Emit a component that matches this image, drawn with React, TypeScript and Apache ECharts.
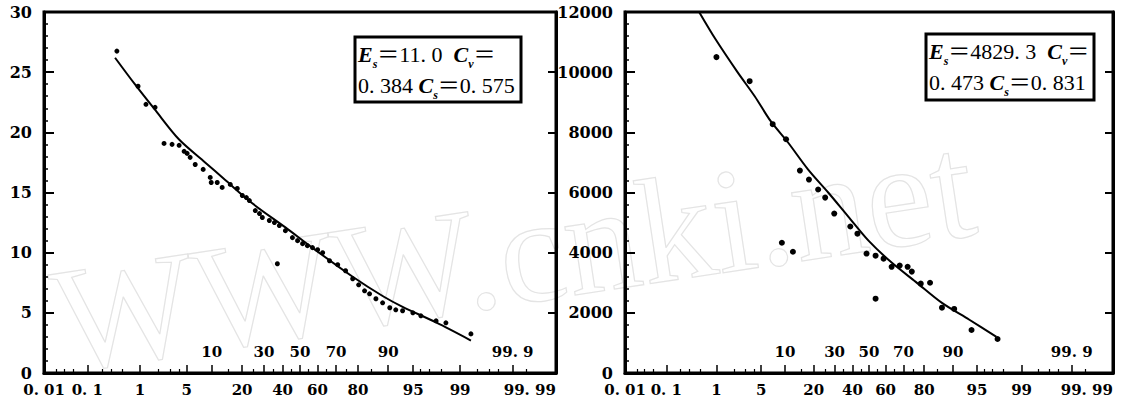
import React, { useEffect, useRef } from "react";
import * as echarts from "echarts";

// ---------- data (exceedance probability in %, value) ----------
const leftObsP = [0.39, 0.93, 1.26, 1.76, 2.41, 3.15, 3.95, 4.61, 5.05, 5.52, 6.39, 7.97, 9.6, 9.85, 11.45, 12.9, 15.55, 18.1, 20.1, 21.8, 23.1, 25.8, 27.8, 29.2, 32.8, 35.5, 37.1, 38.2, 41.6, 45.6, 48.6, 51.5, 54.3, 57.2, 60.1, 62.9, 66.6, 70.8, 74.6, 77.8, 80.3, 82.6, 84.4, 86.5, 88.5, 90.4, 91.8, 93.2, 94.95, 96.05, 97.6, 98.3, 99.35];
const leftObsV = [26.75, 23.83, 22.33, 22.08, 19.08, 19.0, 18.92, 18.42, 18.25, 17.92, 17.33, 16.92, 16.25, 15.83, 15.83, 15.42, 15.67, 15.33, 14.75, 14.58, 14.33, 13.5, 13.25, 12.92, 12.67, 12.5, 9.08, 12.25, 11.83, 11.25, 11.0, 10.75, 10.58, 10.42, 10.25, 10.0, 9.33, 9.0, 8.5, 7.83, 7.33, 6.83, 6.58, 6.17, 5.83, 5.42, 5.25, 5.17, 5.0, 4.75, 4.33, 4.17, 3.25];
const leftCurveP = [0.36, 0.82, 1.74, 3.95, 8.4, 13.6, 24.4, 41.6, 57.2, 77.8, 88.5, 93.2, 97.6, 99.35];
const leftCurveV = [26.2, 24.0, 21.9, 19.4, 17.5, 16.1, 14.1, 12.1, 10.4, 8.0, 6.4, 5.5, 4.2, 2.7];

const rightObsP = [1.0, 3.44, 7.1, 9.2, 10.3, 12.3, 14.6, 18.0, 21.9, 25.2, 29.8, 38.8, 43.0, 48.5, 54.0, 54.0, 58.8, 63.5, 68.0, 72.2, 74.3, 78.5, 82.4, 86.7, 90.3, 94.1, 97.5];
const rightObsV = [10500, 9700, 8270, 4330, 7770, 4030, 6730, 6430, 6100, 5830, 5300, 4870, 4630, 3970, 3900, 2470, 3800, 3530, 3570, 3530, 3370, 2970, 3000, 2170, 2130, 1430, 1130];
const rightCurveP = [0.48, 0.96, 2.25, 4.07, 6.7, 10.8, 17.6, 26.7, 37.6, 49.7, 63.5, 76.2, 86.7, 93.7, 97.4];
const rightCurveV = [12000, 11100, 10000, 9200, 8370, 7670, 6770, 6000, 5200, 4400, 3670, 3030, 2330, 1770, 1200];

// ---------- probability-axis ticks ----------
const bottomLabelP = [0.01, 0.1, 1, 5, 20, 40, 60, 80, 95, 99, 99.99];
const bottomLabels = ["0. 01", "0. 1", "1", "5", "20", "40", "60", "80", "95", "99", "99. 99"];
const innerLabelP = [10, 30, 50, 70, 90, 99.9];
const innerLabels = ["10", "30", "50", "70", "90", "99. 9"];
const majorTickP = [0.1, 1, 5, 10, 20, 30, 40, 50, 60, 70, 80, 90, 95, 99, 99.9];
const minorTickP = [0.02, 0.03, 0.05, 0.2, 0.3, 0.5, 2, 3, 4, 15, 25, 35, 45, 55, 65, 75, 85, 96, 97, 98, 99.5, 99.7, 99.8, 99.95];

const leftBox = { e: "11. 0", cv: "0. 384", cs: "0. 575" };
const rightBox = { e: "4829. 3", cv: "0. 473", cs: "0. 831" };
const watermark = "WWW.cnki.net";

// inverse standard normal CDF (probability-paper axis transform)
function probit(pPercent: number): number {
  const p = pPercent / 100;
  const a = [-3.969683028665376e1, 2.209460984245205e2, -2.759285104469687e2, 1.38357751867269e2, -3.066479806614716e1, 2.506628277459239];
  const b = [-5.447609879822406e1, 1.615858368580409e2, -1.556989798598866e2, 6.680131188771972e1, -1.328068155288572e1];
  const c = [-7.784894002430293e-3, -3.223964580411365e-1, -2.400758277161838, -2.549732539343734, 4.374664141464968, 2.938163982698783];
  const d = [7.784695709041462e-3, 3.224671290700398e-1, 2.445134137142996, 3.754408661907416];
  const plow = 0.02425;
  if (p < plow) {
    const q = Math.sqrt(-2 * Math.log(p));
    return (((((c[0] * q + c[1]) * q + c[2]) * q + c[3]) * q + c[4]) * q + c[5]) / ((((d[0] * q + d[1]) * q + d[2]) * q + d[3]) * q + 1);
  }
  if (p <= 1 - plow) {
    const q = p - 0.5;
    const r = q * q;
    return ((((((a[0] * r + a[1]) * r + a[2]) * r + a[3]) * r + a[4]) * r + a[5]) * q) / (((((b[0] * r + b[1]) * r + b[2]) * r + b[3]) * r + b[4]) * r + 1);
  }
  const q = Math.sqrt(-2 * Math.log(1 - p));
  return -(((((c[0] * q + c[1]) * q + c[2]) * q + c[3]) * q + c[4]) * q + c[5]) / ((((d[0] * q + d[1]) * q + d[2]) * q + d[3]) * q + 1);
}

const ZMIN = probit(0.01) - 0.001;
const ZMAX = probit(99.99) + 0.001;

const FONT = "'DejaVu Serif', serif";

function labelFmt(ps: number[], labels: string[]) {
  const zs = ps.map(probit);
  return (v: number) => {
    let best = 0;
    let bd = Infinity;
    zs.forEach((z, i) => {
      const dd = Math.abs(z - v);
      if (dd < bd) {
        bd = dd;
        best = i;
      }
    });
    return labels[best];
  };
}

function xAxes(g: number) {
  return [
    {
      gridIndex: g,
      type: "value",
      position: "bottom",
      min: ZMIN,
      max: ZMAX,
      axisLine: { show: true, onZero: false, lineStyle: { color: "#000", width: 3 } },
      axisTick: { show: true, inside: true, length: 8, lineStyle: { color: "#000", width: 1.5 }, customValues: majorTickP.map(probit) },
      axisLabel: {
        customValues: bottomLabelP.map(probit),
        formatter: labelFmt(bottomLabelP, bottomLabels),
        margin: 9,
        color: "#000",
        fontFamily: FONT,
        fontWeight: "bold",
        fontSize: 15,
        alignMaxLabel: "right",
        hideOverlap: false,
      },
      splitLine: { show: false },
    },
    {
      gridIndex: g,
      type: "value",
      position: "bottom",
      min: ZMIN,
      max: ZMAX,
      axisLine: { show: false, onZero: false },
      axisTick: { show: true, inside: true, length: 4, lineStyle: { color: "#000", width: 1.2 }, customValues: minorTickP.map(probit) },
      axisLabel: {
        inside: true,
        customValues: innerLabelP.map(probit),
        formatter: labelFmt(innerLabelP, innerLabels),
        margin: 14,
        color: "#000",
        fontFamily: FONT,
        fontWeight: "bold",
        fontSize: 15,
        hideOverlap: false,
      },
      splitLine: { show: false },
    },
  ];
}

function yAxes(g: number, max: number, interval: number) {
  return [
    {
      gridIndex: g,
      type: "value",
      position: "left",
      min: 0,
      max,
      interval,
      axisLine: { show: true, onZero: false, lineStyle: { color: "#000", width: 3 } },
      axisTick: { show: true, inside: true, length: 10, lineStyle: { color: "#000", width: 2 } },
      minorTick: { show: true, splitNumber: 5, length: 4, lineStyle: { color: "#000", width: 1.5 } },
      axisLabel: { margin: 12, color: "#000", fontFamily: FONT, fontWeight: "bold", fontSize: 16, formatter: (v: number) => String(v) },
      splitLine: { show: false },
      minorSplitLine: { show: false },
    },
    {
      gridIndex: g,
      type: "value",
      position: "right",
      min: 0,
      max,
      interval,
      axisLine: { show: true, onZero: false, lineStyle: { color: "#000", width: 3 } },
      axisTick: { show: true, inside: true, length: 8, lineStyle: { color: "#000", width: 2 } },
      axisLabel: { show: false },
      splitLine: { show: false },
    },
  ];
}

function zip(ps: number[], vs: number[]) {
  return ps.map((p, i) => [probit(p), vs[i]]);
}

function boxGraphic(x: number, y: number, w: number, h: number, vals: { e: string; cv: string; cs: string }) {
  const fam = "'Liberation Serif', 'Noto Sans CJK SC', serif";
  const n = { fontFamily: fam, fontSize: 22, lineHeight: 31, fill: "#000" };
  const it = { fontFamily: fam, fontSize: 22, lineHeight: 31, fontStyle: "italic", fontWeight: "bold", fill: "#000" };
  const sub = { fontFamily: fam, fontSize: 12, lineHeight: 20, fontStyle: "italic", fontWeight: "bold", verticalAlign: "bottom", fill: "#000" };
  return [
    { type: "rect", z: 100, shape: { x, y, width: w, height: h }, style: { fill: "#fff", stroke: "#000", lineWidth: 3 } },
    {
      type: "text",
      z: 101,
      x: x + 3,
      y: y + 2,
      style: {
        text: `{i|E}{s|s}{n|＝${vals.e}  }{i|C}{s|v}{n|＝}\n{n|${vals.cv} }{i|C}{s|s}{n|＝${vals.cs}}`,
        rich: { n, i: it, s: sub },
      },
    },
  ];
}

export default function App() {
  const ref = useRef<HTMLDivElement>(null);
  useEffect(() => {
    document.body.style.margin = "0";
    const chart = echarts.init(ref.current!, null, { renderer: "svg" });
    chart.setOption({
      animation: false,
      backgroundColor: "#fff",
      grid: [
        { left: 44, top: 12, width: 512, height: 361, show: true, borderColor: "#000", borderWidth: 3, backgroundColor: "transparent" },
        { left: 625, top: 12, width: 488, height: 361, show: true, borderColor: "#000", borderWidth: 3, backgroundColor: "transparent" },
      ],
      xAxis: [...xAxes(0), ...xAxes(1)],
      yAxis: [...yAxes(0, 30, 5), ...yAxes(1, 12000, 2000)],
      graphic: [
        {
          type: "text",
          z: -10,
          x: 66,
          y: 396,
          rotation: 0.15,
          silent: true,
          style: {
            text: watermark,
            font: "150px 'Liberation Serif', serif",
            fill: "rgba(0,0,0,0)",
            stroke: "#e4e4e4",
            lineWidth: 1.2,
            verticalAlign: "bottom",
          },
        },
        ...boxGraphic(355, 37, 166, 65, leftBox),
        ...boxGraphic(926, 34, 168, 66, rightBox),
      ],
      series: [
        {
          type: "line",
          xAxisIndex: 0,
          yAxisIndex: 0,
          data: zip(leftCurveP, leftCurveV),
          smooth: 0.3,
          showSymbol: false,
          lineStyle: { color: "#000", width: 2 },
          z: 5,
        },
        {
          type: "scatter",
          xAxisIndex: 0,
          yAxisIndex: 0,
          data: zip(leftObsP, leftObsV),
          symbolSize: 5,
          itemStyle: { color: "#000", opacity: 1 },
          z: 6,
        },
        {
          type: "line",
          xAxisIndex: 2,
          yAxisIndex: 2,
          data: zip(rightCurveP, rightCurveV),
          smooth: 0.3,
          showSymbol: false,
          lineStyle: { color: "#000", width: 2 },
          z: 5,
        },
        {
          type: "scatter",
          xAxisIndex: 2,
          yAxisIndex: 2,
          data: zip(rightObsP, rightObsV),
          symbolSize: 6,
          itemStyle: { color: "#000", opacity: 1 },
          z: 6,
        },
      ],
    });
    return () => chart.dispose();
  }, []);
  return <div ref={ref} style={{ width: 1124, height: 411 }} />;
}
